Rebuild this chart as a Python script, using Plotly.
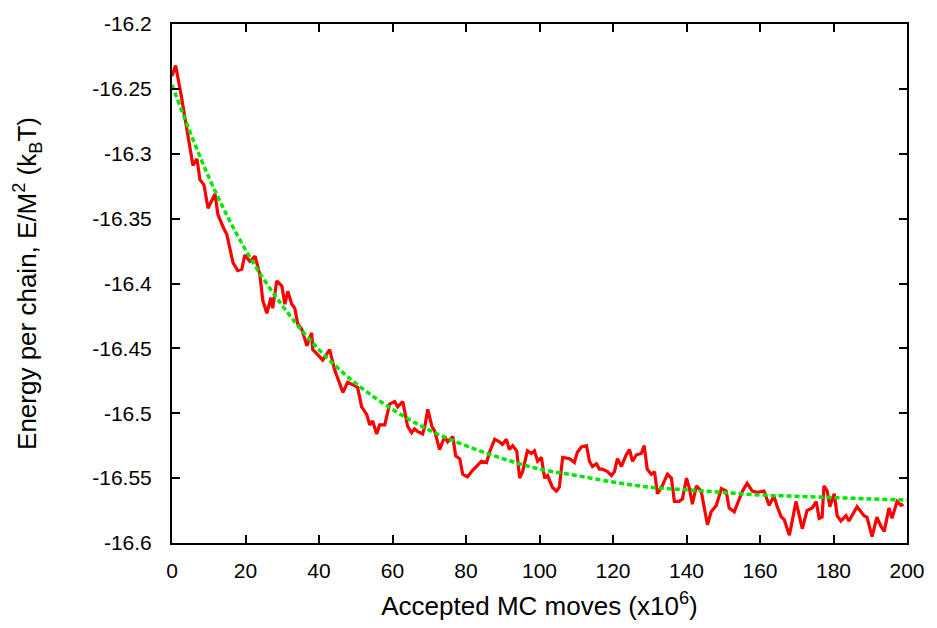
import plotly.graph_objects as go

# Simulation energy trace (accepted MC moves in units of 1e6, energy per chain in kBT)
moves = [0, 1, 2.5, 4, 5.7, 6.8, 7.6, 8.7, 9.8, 11.7, 12.5, 14, 14.9, 16.6, 17.9, 19, 19.8,
         21.2, 22.6, 23.9, 24.7, 25.8, 26.9, 27.4, 28.5, 29.9, 30.7, 31.5, 32.6, 33.4, 34.2,
         35.3, 36.7, 38, 38.3, 39.7, 41, 42.9, 44.3, 45.1, 46.5, 47.8, 49.2, 50.5, 51.6, 53,
         53.8, 54.6, 55.7, 56.5, 57.9, 59.2, 60.6, 61.4, 62.8, 64.1, 65.2, 66, 66.8, 68.2,
         68.8, 69.6, 70.7, 71.5, 72.8, 74.2, 75, 76.4, 77.2, 78.3, 79.1, 80.4, 81.8, 82.9,
         84.2, 85.6, 86.4, 87.8, 89.1, 89.9, 91, 91.8, 92.7, 93.8, 94.6, 95.4, 96.7, 97.8,
         98.6, 99.5, 100.5, 101.4, 102.2, 103.5, 104.6, 105.4, 106.3, 108.2, 109.5, 110.3,
         111.4, 112.8, 113.6, 114.4, 115.5, 116.3, 117.1, 118.5, 119.6, 120.4, 121.2, 122.3,
         123.6, 124.5, 125.3, 126.4, 127.7, 128.5, 129.3, 130.4, 131.3, 132.1, 133.4, 134.8,
         135.9, 136.7, 138, 138.9, 140, 140.8, 141.6, 142.7, 144, 145.7, 146.7, 148.1, 149.5,
         150.8, 151.6, 153, 154.3, 155.2, 156.5, 157.9, 159.2, 161.1, 162.5, 163.8, 164.7,
         165.8, 166.6, 168, 169.8, 170.7, 171.5, 172.8, 174.2, 175.3, 176.1, 176.9, 177.4,
         178.3, 179, 180.2, 181, 182, 183.4, 184.2, 186.4, 188.3, 189.1, 190.5, 191.8, 192.9,
         193.8, 195.1, 195.9, 197.3, 198.4, 199]
energy = [-16.240, -16.232, -16.255, -16.280, -16.309, -16.304, -16.320, -16.324, -16.342,
          -16.331, -16.347, -16.357, -16.362, -16.384, -16.390, -16.389, -16.378, -16.383,
          -16.379, -16.393, -16.413, -16.423, -16.411, -16.419, -16.398, -16.402, -16.416,
          -16.406, -16.416, -16.419, -16.431, -16.435, -16.448, -16.438, -16.451, -16.455,
          -16.459, -16.451, -16.467, -16.473, -16.484, -16.476, -16.478, -16.480, -16.495,
          -16.501, -16.509, -16.506, -16.516, -16.509, -16.509, -16.493, -16.491, -16.495,
          -16.491, -16.510, -16.515, -16.512, -16.514, -16.516, -16.510, -16.497, -16.510,
          -16.514, -16.528, -16.518, -16.522, -16.518, -16.533, -16.535, -16.547, -16.549,
          -16.544, -16.541, -16.537, -16.538, -16.530, -16.520, -16.522, -16.524, -16.520,
          -16.528, -16.525, -16.529, -16.550, -16.545, -16.529, -16.531, -16.529, -16.537,
          -16.534, -16.550, -16.548, -16.557, -16.560, -16.557, -16.534, -16.535, -16.538,
          -16.530, -16.526, -16.525, -16.537, -16.541, -16.539, -16.543, -16.543, -16.545,
          -16.548, -16.545, -16.535, -16.541, -16.532, -16.528, -16.537, -16.532, -16.531,
          -16.525, -16.543, -16.547, -16.545, -16.562, -16.556, -16.547, -16.550, -16.568,
          -16.568, -16.566, -16.550, -16.558, -16.570, -16.556, -16.560, -16.586, -16.576,
          -16.571, -16.558, -16.560, -16.573, -16.576, -16.567, -16.560, -16.554, -16.560,
          -16.561, -16.560, -16.571, -16.564, -16.572, -16.580, -16.582, -16.594, -16.568,
          -16.579, -16.589, -16.575, -16.573, -16.568, -16.581, -16.580, -16.556, -16.560,
          -16.572, -16.562, -16.579, -16.583, -16.579, -16.583, -16.572, -16.579, -16.580,
          -16.595, -16.580, -16.587, -16.591, -16.573, -16.581, -16.568, -16.571, -16.570]

# Exponential relaxation fit, sampled every 10 x 1e6 moves
fit_moves = [0, 10, 20, 30, 40, 50, 60, 70, 80, 90, 100, 110, 120, 130, 140, 150, 160,
             170, 180, 190, 200]
fit_energy = [-16.247, -16.318, -16.374, -16.417, -16.451, -16.477, -16.497, -16.513,
              -16.525, -16.535, -16.543, -16.548, -16.553, -16.557, -16.559, -16.561,
              -16.563, -16.564, -16.565, -16.566, -16.567]

x_ticks = [0, 20, 40, 60, 80, 100, 120, 140, 160, 180, 200]
y_ticks = [-16.2, -16.25, -16.3, -16.35, -16.4, -16.45, -16.5, -16.55, -16.6]
y_tick_text = ["-16.2", "-16.25", "-16.3", "-16.35", "-16.4", "-16.45", "-16.5",
               "-16.55", "-16.6"]

FONT = "Liberation Sans, Arial, sans-serif"

fig = go.Figure()
fig.add_trace(go.Scatter(
    x=moves, y=energy, mode="lines",
    line=dict(color="#ff0000", width=3.2),
    showlegend=False,
))
fig.add_trace(go.Scatter(
    x=fit_moves, y=fit_energy, mode="lines",
    line=dict(color="#00e600", width=3.5, dash="5px,3px", shape="spline"),
    showlegend=False,
))

axis_common = dict(
    showline=True, linecolor="black", linewidth=2, mirror="ticks",
    ticks="inside", ticklen=8, tickwidth=2, tickcolor="black",
    showgrid=False, zeroline=False,
    tickfont=dict(family=FONT, size=21, color="black"),
)

fig.update_xaxes(
    range=[0, 200], tickvals=x_ticks, ticklabelstandoff=8,
    title=dict(text="Accepted MC moves (x10<sup>6</sup>)",
               font=dict(family=FONT, size=26, color="black"), standoff=16),
    **axis_common,
)
fig.update_yaxes(
    range=[-16.6, -16.2], tickvals=y_ticks, ticktext=y_tick_text, ticklabelstandoff=14,
    title=dict(text="Energy per chain, E/M<sup>2</sup> (k<sub>B</sub>T)",
               font=dict(family=FONT, size=26, color="black"), standoff=48),
    **axis_common,
)

fig.update_layout(
    width=937, height=628,
    margin=dict(l=172, r=29, t=20, b=83),
    paper_bgcolor="white", plot_bgcolor="white",
)

fig.write_html("out.html")
